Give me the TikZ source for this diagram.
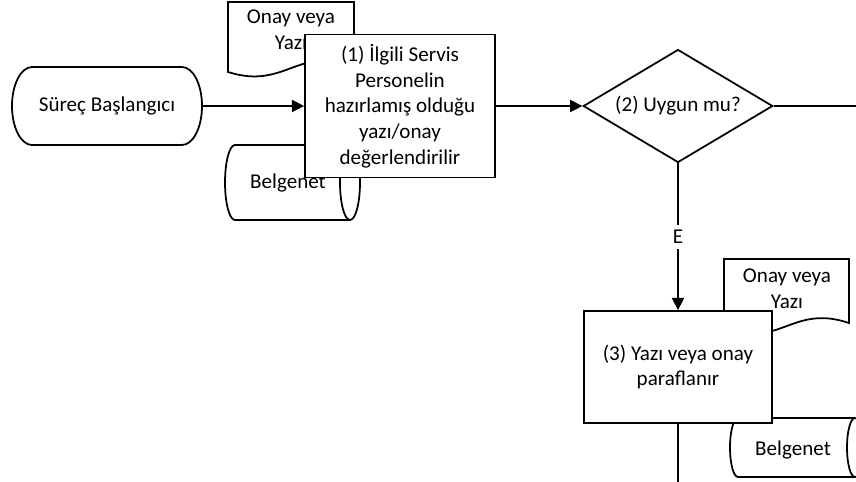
\documentclass[tikz,border=0pt]{standalone}
\usepackage{fontspec}
\setmainfont{Carlito}
\usetikzlibrary{arrows.meta, shapes.geometric}
\tikzset{
    term/.style ={rectangle, minimum width=3.8cm, minimum height=1.56cm},
    process/.style ={rectangle, draw, fill=white, align=center, minimum width=3.8cm, minimum height=2.86cm},
    decision/.style ={diamond, draw, fill=white, aspect=1.7, inner sep=0pt, minimum width=3.79cm, minimum height=2.26cm},
    paper/.style ={draw, fill=white},
    store/.style ={draw, fill=white},
    txt/.style ={align=center, inner sep=0pt},
    conn/.style ={->, line width=0.6pt},
    line/.style ={line width=0.6pt},
    elabel/.style ={fill=white, inner sep=3pt}
    }

\begin{document}
\begin{tikzpicture}[
      x = 0.02cm, y = 0.02cm, % one unit = one pixel of the sketch
      > = {Triangle[length=7pt, width=7pt]}, % arrow head style
      font = \fontsize{12}{14.6}\selectfont,
      line width = 1pt
    ]
    \useasboundingbox (0,0) rectangle (856,-481);

    % documents and data stores lying behind the steps
    \draw[paper] (228,-2) -- (354,-2) -- (354,-65) .. controls (297,-46) and (285,-90) .. (228,-72) -- cycle;
    \node[txt] (4) at (291,-30) {Onay veya\\Yazı};

    \draw[store] (235,-145) -- (350,-145) arc[start angle=90, end angle=-90, x radius=0.2cm, y radius=0.75cm]
        -- (235,-220) arc[start angle=270, end angle=90, x radius=0.2cm, y radius=0.75cm] -- cycle
        (350,-145) arc[start angle=90, end angle=270, x radius=0.2cm, y radius=0.75cm];
    \node[txt] (5) at (288,-183) {Belgenet};

    \draw[paper] (724,-259) -- (849,-259) -- (849,-323) .. controls (793,-304) and (780,-348) .. (724,-330) -- cycle;
    \node[txt] (6) at (787,-289) {Onay veya\\Yazı};

    \draw[store] (738,-418) -- (855,-418) arc[start angle=90, end angle=-90, x radius=0.16cm, y radius=0.59cm]
        -- (738,-477) arc[start angle=270, end angle=90, x radius=0.16cm, y radius=0.59cm] -- cycle
        (855,-418) arc[start angle=90, end angle=270, x radius=0.16cm, y radius=0.59cm];
    \node[txt] (7) at (793,-450) {Belgenet};

    % start terminator, ends are half ellipses
    \draw[fill=white] (32,-67) -- (182,-67) arc[start angle=90, end angle=-90, x radius=0.4cm, y radius=0.78cm]
        -- (32,-145) arc[start angle=270, end angle=90, x radius=0.4cm, y radius=0.78cm] -- cycle;

    % steps
    \node[term] (0) at (107,-106) {Süreç Başlangıcı};
    \node[process] (1) at (400,-106) {(1) İlgili Servis\\Personelin\\hazırlamış olduğu\\yazı/onay\\değerlendirilir};
    \node[decision] (2) at (678,-106) {(2) Uygun mu?};
    \node[process, minimum width=3.76cm, minimum height=2.24cm] (3) at (678,-367) {(3) Yazı veya onay\\paraflanır};

    \coordinate (yes) at (860,-106);
    \coordinate (next) at (678,-485);

    \path[conn] (0) edge (1);
    \path[conn] (1) edge (2);
    \path[conn] (2) edge node[elabel] {E} (3);

    \draw[line] (2) -- (yes);
    \draw[line] (3) -- (next);
\end{tikzpicture}
\end{document}
